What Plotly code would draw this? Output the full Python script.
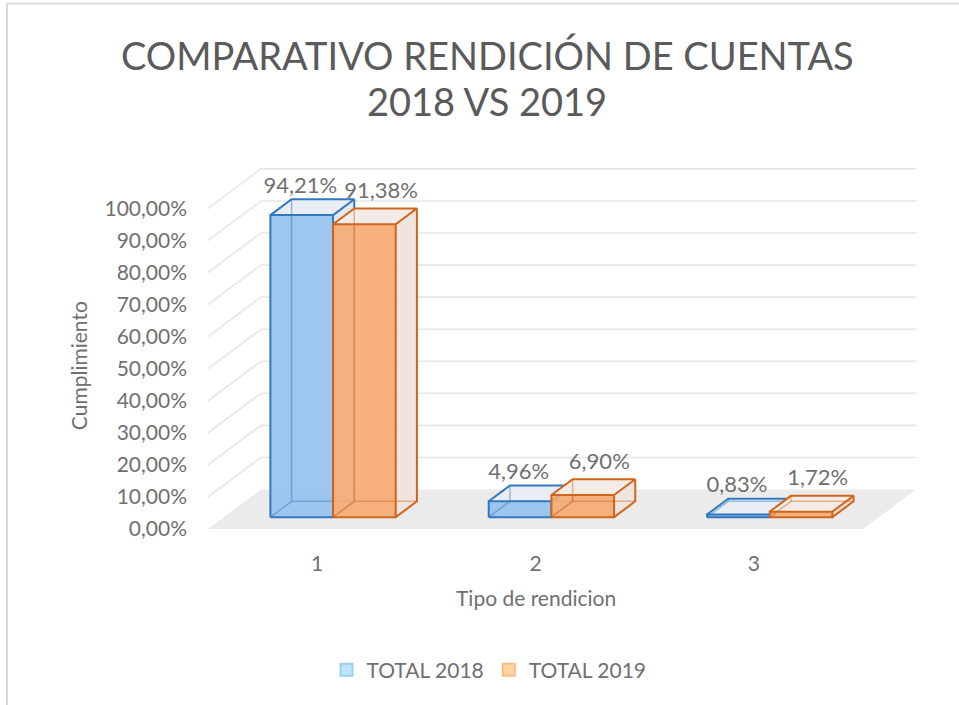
import plotly.graph_objects as go

# ---- data -------------------------------------------------------------
categories = ["1", "2", "3"]
series_names = ["TOTAL 2018", "TOTAL 2019"]
total_2018 = [94.21, 4.96, 0.83]
total_2019 = [91.38, 6.90, 1.72]
y_ticks = [0, 10, 20, 30, 40, 50, 60, 70, 80, 90, 100]
y_tick_labels = [f"{v:.2f}%".replace(".", ",") for v in y_ticks]

# ---- geometry ---------------------------------------------------------
FIG_W, FIG_H = 959, 705
M_L, M_R, M_T, M_B = 208, 28, 150, 165
PLOT_W = FIG_W - M_L - M_R
PLOT_H = FIG_H - M_T - M_B
PX_PER_CAT = 218.33          # pixels per category slot
PX_PER_PCT = 3.206           # pixels per percentage point
ZERO_ABOVE_BOTTOM = 11       # px between plot bottom and the 0 % floor edge

# oblique depth of the floor, expressed in axis units
SX = 53 / PX_PER_CAT
SY = 39.5 / PX_PER_PCT
D_FRONT, D_BACK = 0.3, 0.7   # bar front/back planes as fraction of floor depth
BAR_W = 0.287

X_RANGE = [0, PLOT_W / PX_PER_CAT]
Y_RANGE = [-ZERO_ABOVE_BOTTOM / PX_PER_PCT, (PLOT_H - ZERO_ABOVE_BOTTOM) / PX_PER_PCT]

FONT = "Lato"
TXT = "#707070"

STYLES = [
    dict(edge="#3278be", edge_soft="rgba(50,120,190,0.45)",
         front="rgba(150,194,238,0.92)", top="#e8eef3", side="#e2e9f1",
         lab_dx=-12, lab_dy=12, legend_fill="#bfe3fb", legend_line="#9ccdf2"),
    dict(edge="#d0651c", edge_soft="rgba(208,101,28,0.45)",
         front="rgba(246,170,113,0.9)", top="#f3ebe6", side="#efe4de",
         lab_dx=6, lab_dy=16, legend_fill="#ffd4a3", legend_line="#f9bd80"),
]


def px_to_paper_x(px):
    return (px - M_L) / PLOT_W


def px_to_paper_y(py):
    return (FIG_H - M_B - py) / PLOT_H


def pt(x, z, d):
    """Project a point (category x, value z, depth d) onto the chart plane."""
    return x + d * SX, z + d * SY


def polygon(points, fill):
    xs = [p[0] for p in points] + [points[0][0]]
    ys = [p[1] for p in points] + [points[0][1]]
    return go.Scatter(x=xs, y=ys, mode="lines", fill="toself", fillcolor=fill,
                      line=dict(width=0), hoverinfo="skip", showlegend=False)


def polyline(segments, color, width):
    xs, ys = [], []
    for seg in segments:
        xs += [p[0] for p in seg] + [None]
        ys += [p[1] for p in seg] + [None]
    return go.Scatter(x=xs, y=ys, mode="lines", line=dict(color=color, width=width),
                      hoverinfo="skip", showlegend=False)


fig = go.Figure()

# ---- floor and walls --------------------------------------------------
n_cat = len(categories)
fig.add_trace(polygon([pt(0, 0, 0), pt(0, 0, 1), pt(n_cat, 0, 1), pt(n_cat, 0, 0)], "#ebebeb"))
grid = []
for v in y_ticks[1:]:
    grid.append([pt(0, v, 0), pt(0, v, 1), pt(n_cat, v, 1)])
fig.add_trace(polyline(grid, "#e6e6e6", 1.6))

# ---- 3-D columns --------------------------------------------------------
series_values = [total_2018, total_2019]
label_x, label_y, label_t = [], [], []
for k in range(n_cat):
    for s, values in enumerate(series_values):
        st = STYLES[s]
        v = values[k]
        x0 = k + 0.5 - BAR_W + s * BAR_W
        x1 = x0 + BAR_W
        FBL, FBR, FTL, FTR = pt(x0, 0, D_FRONT), pt(x1, 0, D_FRONT), pt(x0, v, D_FRONT), pt(x1, v, D_FRONT)
        BBL, BBR, BTL, BTR = pt(x0, 0, D_BACK), pt(x1, 0, D_BACK), pt(x0, v, D_BACK), pt(x1, v, D_BACK)

        fig.add_trace(polygon([FTL, BTL, BTR, FTR], st["top"]))
        fig.add_trace(polygon([FBR, BBR, BTR, FTR], st["side"]))
        fig.add_trace(polygon([FBL, FBR, FTR, FTL], st["front"]))
        fig.add_trace(polyline([[FBL, BBL, BTL], [BBL, BBR]], st["edge_soft"], 1.5))
        fig.add_trace(polyline([[FBL, FBR, FTR, FTL, FBL],
                                [FTL, BTL, BTR, FTR],
                                [FBR, BBR, BTR]], st["edge"], 2))

        cx = (x0 + x1) / 2 + (D_FRONT + D_BACK) / 2 * SX
        label_x.append(cx + st["lab_dx"] / PX_PER_CAT)
        label_y.append(v + D_BACK * SY + st["lab_dy"] / PX_PER_PCT)
        label_t.append(f"{v:.2f}%".replace(".", ","))

fig.add_trace(go.Scatter(x=label_x, y=label_y, text=label_t, mode="text",
                         textposition="middle center", cliponaxis=False,
                         textfont=dict(family=FONT, size=22, color=TXT),
                         hoverinfo="skip", showlegend=False))

# legend entries
for s, name in enumerate(series_names):
    st = STYLES[s]
    fig.add_trace(go.Bar(x=[None], y=[None], name=name,
                         marker=dict(color=st["legend_fill"],
                                     line=dict(color=st["legend_line"], width=2))))

# ---- layout -----------------------------------------------------------
title_font = dict(family=FONT, size=38, color="#5a5a5a")
annotations = [
    dict(text="COMPARATIVO RENDICIÓN DE CUENTAS", xref="paper", yref="paper",
         x=px_to_paper_x(487), y=px_to_paper_y(55), xanchor="center", yanchor="middle",
         showarrow=False, font=title_font),
    dict(text="2018 VS 2019", xref="paper", yref="paper",
         x=px_to_paper_x(487), y=px_to_paper_y(101), xanchor="center", yanchor="middle",
         showarrow=False, font=title_font),
    dict(text="Cumplimiento", xref="paper", yref="y", x=px_to_paper_x(78), y=50.8,
         xanchor="center", yanchor="middle", textangle=-90, showarrow=False,
         font=dict(family=FONT, size=21, color=TXT)),
    dict(text="Tipo de rendicion", xref="x", yref="paper", x=n_cat / 2, y=px_to_paper_y(597),
         xanchor="center", yanchor="middle", showarrow=False,
         font=dict(family=FONT, size=21, color=TXT)),
]

frame = [
    dict(type="line", xref="paper", yref="paper", layer="above",
         x0=px_to_paper_x(7), x1=px_to_paper_x(959), y0=px_to_paper_y(3.5), y1=px_to_paper_y(3.5),
         line=dict(color="#d9d9d9", width=2)),
    dict(type="line", xref="paper", yref="paper", layer="above",
         x0=px_to_paper_x(7), x1=px_to_paper_x(7), y0=px_to_paper_y(3.5), y1=px_to_paper_y(705),
         line=dict(color="#d9d9d9", width=2)),
]

fig.update_layout(
    width=FIG_W, height=FIG_H,
    margin=dict(l=M_L, r=M_R, t=M_T, b=M_B, autoexpand=False),
    paper_bgcolor="white", plot_bgcolor="white",
    font=dict(family=FONT, size=21, color=TXT),
    xaxis=dict(range=X_RANGE, tickvals=[k + 0.5 for k in range(n_cat)], ticktext=categories,
               showgrid=False, zeroline=False, showline=False, ticks="",
               ticklabelstandoff=9, tickfont=dict(family=FONT, size=21, color=TXT),
               fixedrange=True),
    yaxis=dict(range=Y_RANGE, tickvals=y_ticks, ticktext=y_tick_labels,
               showgrid=False, zeroline=False, showline=False, ticks="",
               ticklabelstandoff=20, tickfont=dict(family=FONT, size=21, color=TXT),
               fixedrange=True),
    showlegend=True,
    legend=dict(orientation="h", x=px_to_paper_x(489), xanchor="center",
                y=px_to_paper_y(670), yanchor="middle", itemwidth=30,
                font=dict(family=FONT, size=21, color=TXT), bgcolor="rgba(0,0,0,0)"),
    annotations=annotations,
    shapes=frame,
)

fig.write_html("out.html")
